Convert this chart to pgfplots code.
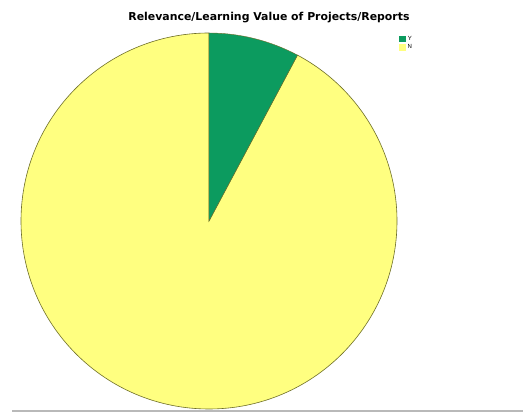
\documentclass[border=0pt]{standalone}
\usepackage{pgfplots}
\pgfplotsset{compat=1.18}
\usepackage{pgfplotstable}
\usepackage{fontspec}
\setmainfont{Liberation Sans}
\newfontfamily\titlefont{DejaVu Sans}
\definecolor{pieG}{RGB}{12,155,95}
\definecolor{pieY}{RGB}{255,255,128}
\definecolor{pieEdge}{RGB}{110,110,40}
\pgfplotstableread{
label value
Y 7.8
N 92.2
}\piedata
\begin{document}
\begin{tikzpicture}
\pgfplotstablegetelem{0}{value}\of\piedata \let\valY\pgfplotsretval
\pgfplotstablegetelem{1}{value}\of\piedata \let\valN\pgfplotsretval
\pgfmathsetmacro\angY{360*\valY/(\valY+\valN)}
\pgfmathsetmacro\endY{450-\angY}
\pgfmathsetmacro\startG{90-\angY}
\begin{axis}[scale only axis, width=523pt, height=412pt,
  xmin=0, xmax=523, ymin=0, ymax=412, hide axis, clip=false,
  legend style={at={(0.763,0.918)}, anchor=north west, draw=none, fill=none,
    font=\fontsize{6}{6}\selectfont, row sep=-1pt, inner sep=0pt},
  legend image code/.code={\fill[#1] (0pt,-2.8pt) rectangle (6pt,2.8pt);}]
\fill[white] (axis cs:0,0) rectangle (axis cs:523,412);
\addlegendimage{pieG}\addlegendentry{Y}
\addlegendimage{pieY}\addlegendentry{N}
\filldraw[fill=pieY, draw=pieEdge, line width=0.6pt] (axis cs:209,191) -- ++(90:188pt) arc[start angle=90, end angle=\endY, radius=188pt] -- cycle;
\filldraw[fill=pieG, draw=pieEdge, line width=0.4pt] (axis cs:209,191) -- ++(\startG:188pt) arc[start angle=\startG, end angle=90, radius=188pt] -- cycle;
\node[font=\titlefont\bfseries\fontsize{10.9}{12}\selectfont] at (axis cs:269,394) {Relevance/Learning Value of Projects/Reports};
\fill[gray!55] (axis cs:12,0) rectangle (axis cs:523,2);
\end{axis}
\end{tikzpicture}
\end{document}
